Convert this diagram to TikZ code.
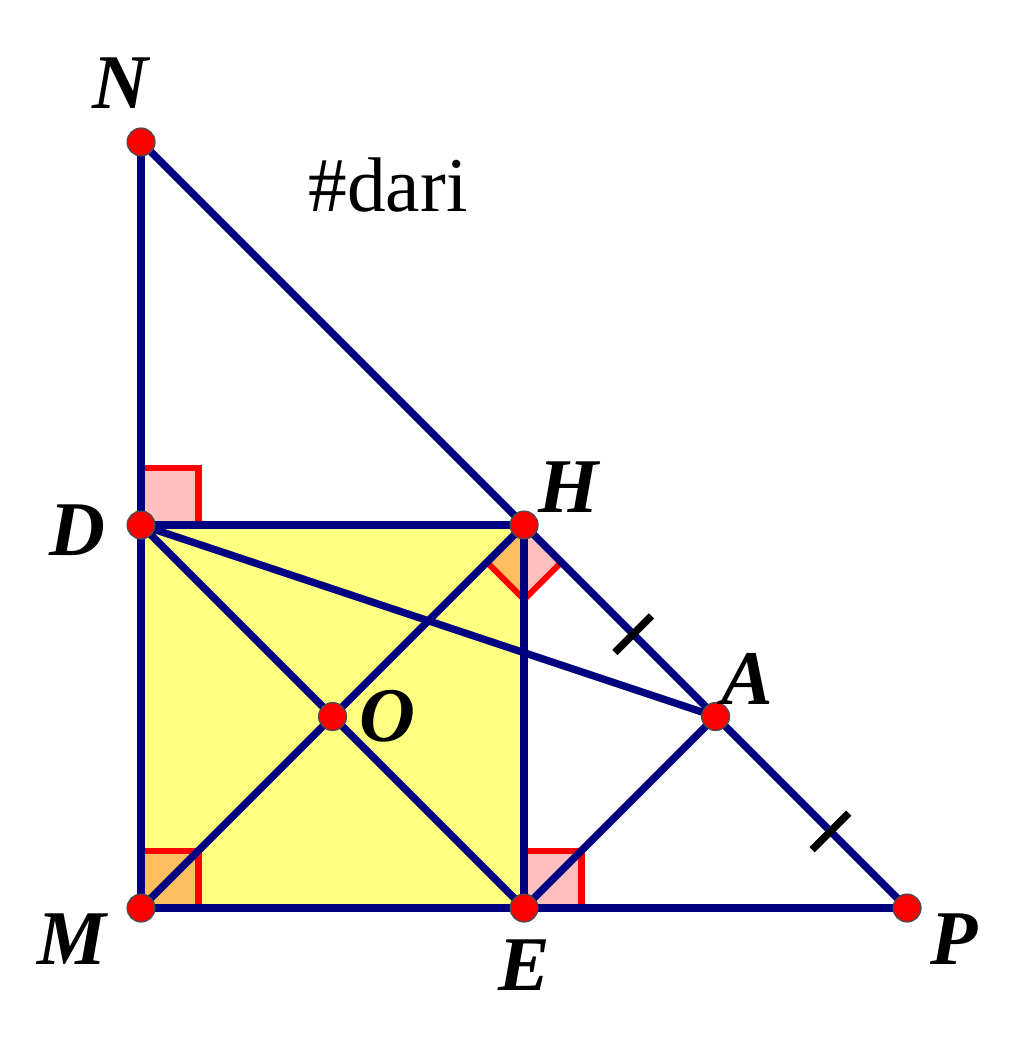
\documentclass[tikz,border=0pt]{standalone}
\usepackage{fontspec}
\setmainfont{Liberation Serif}
\usepackage{xcolor}
\usetikzlibrary{calc}
\definecolor{navyline}{RGB}{0,0,128}
\definecolor{squarefill}{RGB}{255,255,128}
\tikzset{right angle/.style={draw=red,line width=1.8pt,line join=miter}}
\tikzset{angle fill/.style={fill=red,fill opacity=0.25}}

\begin{document}
\begin{tikzpicture}[line width=2.2pt,
                    main line/.style={draw=navyline,line cap=round},
                    pt node/.style={circle,fill=red,draw=black!70,line width=0.4pt,inner sep=0pt,minimum size=0.29cm},
                    label node/.style={font=\fontsize{23}{27}\selectfont\bfseries\itshape}]
\useasboundingbox (-1.473,-1.493) rectangle (9.222,9.483);

\coordinate (M) at (0,0);
\coordinate (E) at (4,0);
\coordinate (P) at (8,0);
\coordinate (D) at (0,4);
\coordinate (H) at (4,4);
\coordinate (N) at (0,8);
\coordinate (O) at (2,2);
\coordinate (A) at (6,2);

\fill[squarefill] (M) rectangle (H);

% right angle marks
\foreach \c in {D,M,E}
   {\fill[angle fill] (\c) rectangle ++(0.6,0.6);
    \draw[right angle] ($(\c)+(0,0.6)$) -- ++(0.6,0) -- ++(0,-0.6);}
\fill[angle fill] (H) -- ++(225:0.55) -- ++(315:0.55) -- ++(45:0.55) -- cycle;
\draw[right angle] ($(H)+(225:0.55)$) -- ++(315:0.55) -- ++(45:0.55);

\foreach \a/\b in {N/P,N/M,M/P,D/H,H/E,D/E,M/H,D/A,E/A}
   \draw[main line] (\a) -- (\b);

% equal marks
\draw[black,line width=2.2pt] ($(H)!0.57!(A)$) ++(45:0.27) -- ++(225:0.54);
\draw[black,line width=2.2pt] ($(A)!0.6!(P)$) ++(45:0.27) -- ++(225:0.54);

\foreach \p in {N,D,H,M,E,P,O,A}
   \node[pt node] (\p dot) at (\p) {};

\node[label node] (NLabel) [shift={(-0.22,0.61)}] at (N) {N};
\node[label node] (DLabel) [shift={(-0.66,-0.05)}] at (D) {D};
\node[label node] (HLabel) [shift={(0.46,0.40)}] at (H) {H};
\node[label node] (ALabel) [shift={(0.33,0.39)}] at (A) {A};
\node[label node] (OLabel) [shift={(0.57,0)}] at (O) {O};
\node[label node] (MLabel) [shift={(-0.72,-0.33)}] at (M) {M};
\node[label node] (ELabel) [shift={(0,-0.6)}] at (E) {E};
\node[label node] (PLabel) [shift={(0.49,-0.33)}] at (P) {P};

\node[font=\fontsize{23}{27}\selectfont] (Tag) at (2.58,7.55) {\#dari};
\end{tikzpicture}
\end{document}
